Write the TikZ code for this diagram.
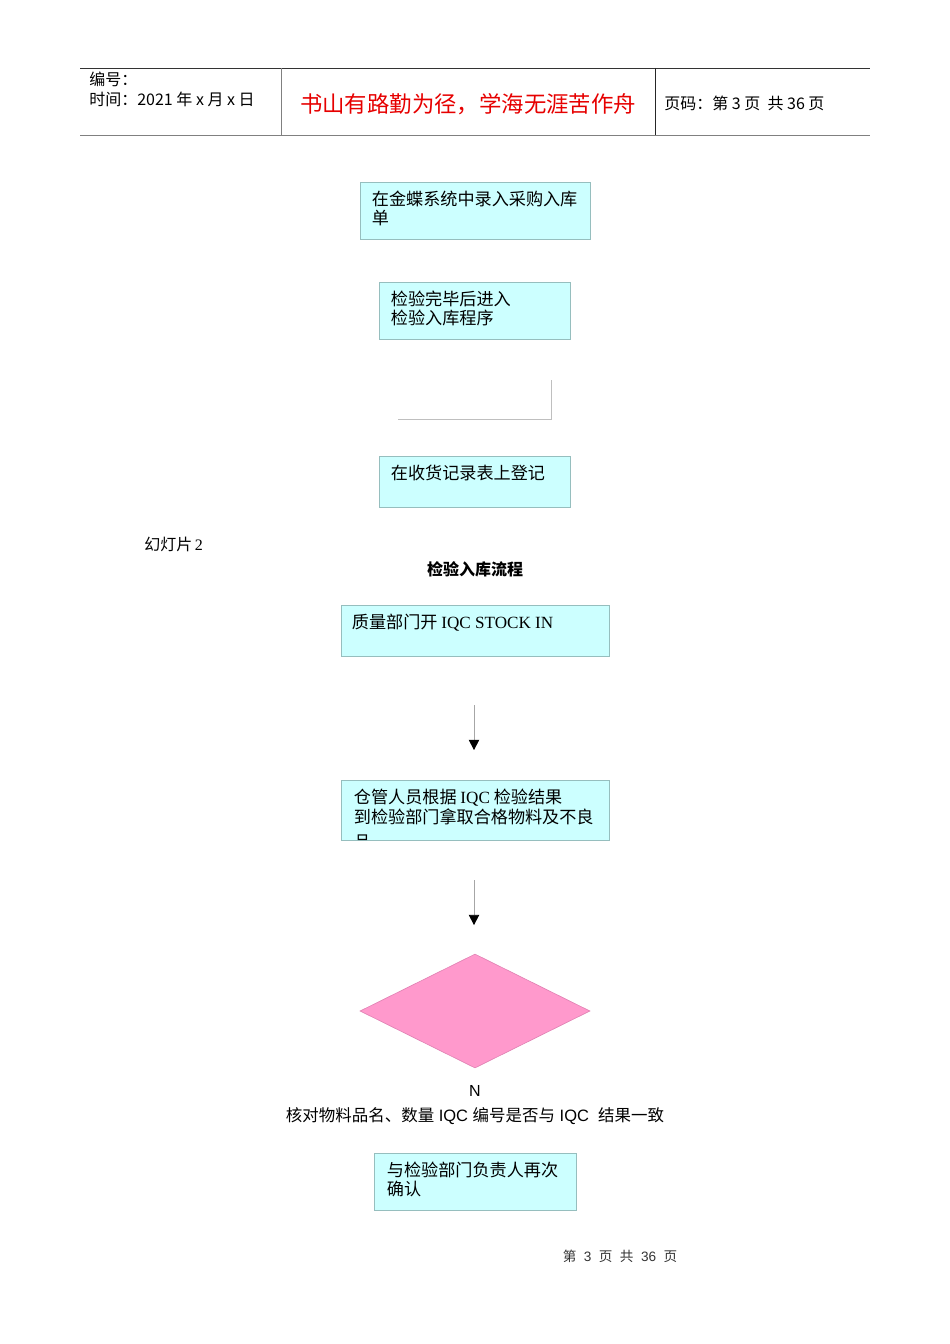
\documentclass[tikz,border=0pt]{standalone}
\usepackage{fontspec}
\setmainfont{Liberation Serif}
\setsansfont{Liberation Sans}
\newfontfamily\cjk{Noto Sans CJK SC}
\usetikzlibrary{shapes.geometric,arrows.meta,positioning}
\definecolor{boxfill}{RGB}{204,255,255}
\definecolor{boxline}{RGB}{150,190,190}
\definecolor{diafill}{RGB}{255,153,204}
\definecolor{dialine}{RGB}{225,130,180}
\definecolor{titlered}{RGB}{230,0,0}
\def\px{0.625pt}
\tikzset{
  flowbox/.style={draw=boxline, fill=boxfill, line width=0.5pt, inner sep=0},
  boxtext/.style={anchor=north west, inner sep=0, align=left, font=\cjk\fontsize{10.7}{12}\selectfont},
  headtext/.style={inner sep=0, font=\cjk\fontsize{10}{12.5}\selectfont},
  flowarrow/.style={draw=black!35, line width=0.4pt, -{Triangle[width=6.5pt,length=6.3pt,color=black]}},
}
\begin{document}
\begin{tikzpicture}[x=0.625pt, y=-0.625pt]
    \useasboundingbox (0,0) rectangle (950,1344);

    % Page header
    \draw[black!80, line width=0.6pt] (80,68) -- (870,68);
    \draw[black!50, line width=1.2pt] (80,135.5) -- (870,135.5);
    \draw[black!50, line width=0.6pt] (281,68) -- (281,135);
    \draw[black!85, line width=0.6pt] (655,68) -- (655,135);
    \node[headtext, anchor=north west, align=left] (docno) at (89,72) {编号：\\时间：2021 年 x 月 x 日};
    \node[inner sep=0, font=\cjk\fontsize{14}{16}\selectfont, text=titlered] (motto) at (468,104) {书山有路勤为径，学海无涯苦作舟};
    \node[headtext, anchor=west] (pageno) at (664,103) {页码：第 3 页\ \ 共 36 页};

    % First flow
    \node[flowbox, minimum width=230*\px, minimum height=57*\px] (entry) at (475,210.5) {};
    \node[boxtext] (entrytxt) at ([shift={(12,9)}]entry.north west) {在金蝶系统中录入采购入库\\单};
    \node[flowbox, minimum width=191*\px, minimum height=57*\px] (inspect) at (474.5,310.5) {};
    \node[boxtext] (inspecttxt) at ([shift={(12,9)}]inspect.north west) {检验完毕后进入\\检验入库程序};
    \coordinate (elbowtop) at (551,380);
    \coordinate (elbowend) at (398,419);
    \draw[black!25, line width=0.5pt] (elbowtop) |- (elbowend);
    \node[flowbox, minimum width=191*\px, minimum height=51*\px] (record) at (474.5,481.5) {};
    \node[boxtext] (recordtxt) at ([shift={(12,9)}]record.north west) {在收货记录表上登记};

    % Slide 2
    \node[inner sep=0, anchor=north west, font=\fontsize{10}{12}\selectfont] (slide) at (144,537) {{\cjk 幻灯片}\,2};
    \node[inner sep=0, font=\cjk\bfseries\fontsize{10}{12}\selectfont] (flowtitle) at (475,569) {检验入库流程};

    \node[flowbox, minimum width=268*\px, minimum height=51*\px] (qcopen) at (475,630.5) {};
    \node[boxtext] (qcopentxt) at ([shift={(11,9)}]qcopen.north west) {质量部门开 {\rmfamily IQC STOCK IN}};
    \coordinate (arrA) at (474,705);
    \coordinate (arrAend) at (474,750);
    \draw[flowarrow] (arrA) -- (arrAend);

    \node[flowbox, minimum width=268*\px, minimum height=60*\px] (pickup) at (475,810) {};
    \begin{scope}
      \clip (pickup.south west) rectangle (pickup.north east);
      \node[boxtext, font=\cjk\fontsize{10.7}{12.6}\selectfont] (pickuptxt) at ([shift={(13,9)}]pickup.north west) {仓管人员根据 {\rmfamily IQC} 检验结果\\到检验部门拿取合格物料及不良\\[3pt]品};
    \end{scope}
    \coordinate (arrB) at (474,880);
    \coordinate (arrBend) at (474,925);
    \draw[flowarrow] (arrB) -- (arrBend);

    % Check
    \node[diamond, draw=dialine, fill=diafill, line width=0.4pt, inner sep=0, minimum width=230*\px, minimum height=114*\px] (check) at (475,1011) {};
    \node[inner sep=0, font=\sffamily\fontsize{10}{12}\selectfont] (no) at (475,1091) {N};
    \node[inner sep=0, font=\sffamily\fontsize{10.3}{12}\selectfont] (checktxt) at (475,1116) {{\cjk 核对物料品名、数量} IQC {\cjk 编号是否与} IQC\ \ {\cjk 结果一致}};

    \node[flowbox, minimum width=202*\px, minimum height=57*\px] (confirm) at (475,1181.5) {};
    \node[boxtext] (confirmtxt) at ([shift={(13,9)}]confirm.north west) {与检验部门负责人再次\\确认};

    % Footer
    \node[inner sep=0, font=\sffamily\fontsize{8.5}{10}\selectfont, text=black!80] (footer) at (620,1256) {{\cjk 第}\hspace{0.55em}3\hspace{0.55em}{\cjk 页}\hspace{0.55em}{\cjk 共}\hspace{0.55em}36\hspace{0.55em}{\cjk 页}};
\end{tikzpicture}
\end{document}
